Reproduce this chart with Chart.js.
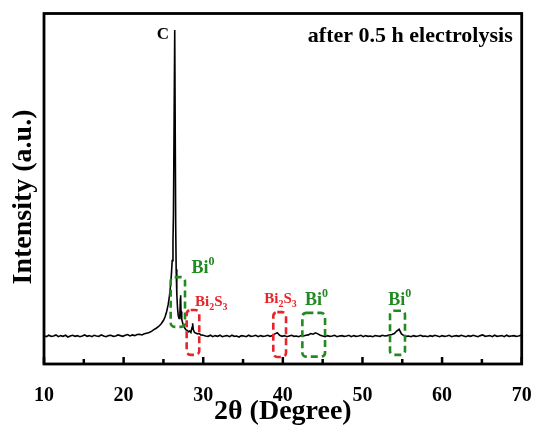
<!DOCTYPE html>
<html>
<head>
<meta charset="utf-8">
<script src="https://cdn.jsdelivr.net/npm/chart.js@4.4.1/dist/chart.umd.min.js"></script>
<style>
  html, body { margin: 0; padding: 0; background: #fff; }
  canvas { display: block; }
</style>
</head>
<body>
<canvas id="xrdChart" width="537" height="427"></canvas>
<script>
// XRD pattern after 0.5 h electrolysis (intensity in arbitrary units, 0-100)
const twoTheta = [
  10.0, 10.3, 10.6, 10.9, 11.2, 11.5, 11.8, 12.1, 12.4, 12.7, 13.0, 13.3, 13.6, 13.9, 14.2,
  14.5, 14.8, 15.1, 15.4, 15.7, 16.0, 16.3, 16.6, 16.9, 17.2, 17.5, 17.8, 18.1, 18.4, 18.7,
  19.0, 19.3, 19.6, 19.9, 20.2, 20.5, 20.8, 21.1, 21.4, 21.7, 22.0, 22.3, 22.6,
  22.9, 23.2, 23.5, 23.8, 24.1, 24.4, 24.7, 25.0, 25.2, 25.4, 25.6, 25.75, 25.9, 26.0, 26.1,
  26.2, 26.26, 26.42, 26.54, 26.6, 26.68, 26.77, 26.86, 26.96,
  27.06, 27.12, 27.16, 27.21, 27.3, 27.42, 27.55, 27.7, 27.85, 28.0, 28.15, 28.3, 28.45,
  28.6, 28.67, 28.75, 28.9, 29.1, 29.3, 29.5, 29.7,
  30.0, 30.3, 30.6, 30.9, 31.2, 31.5, 31.8, 32.1, 32.4, 32.7,
  33.0, 33.3, 33.6, 33.9, 34.2, 34.5, 34.8, 35.1, 35.4, 35.7,
  36.0, 36.3, 36.6, 36.9, 37.2, 37.5, 37.8, 38.1, 38.4, 38.7,
  39.0, 39.3, 39.6, 39.9, 40.2, 40.5, 40.8, 41.1, 41.4, 41.7,
  42.0, 42.3, 42.6, 42.9, 43.2, 43.5, 43.8, 44.1, 44.4, 44.7,
  45.0, 45.3, 45.6, 45.9, 46.2, 46.5, 46.8, 47.1, 47.4, 47.7,
  48.0, 48.3, 48.6, 48.9, 49.2, 49.5, 49.8, 50.1, 50.4, 50.7,
  51.0, 51.3, 51.6, 51.9, 52.2, 52.5, 52.8, 53.1, 53.4, 53.7,
  54.0, 54.3, 54.6, 54.9, 55.2, 55.5, 55.8, 56.1, 56.4, 56.7,
  57.0, 57.3, 57.6, 57.9, 58.2, 58.5, 58.8, 59.1, 59.4, 59.7,
  60.0, 60.3, 60.6, 60.9, 61.2, 61.5, 61.8, 62.1, 62.4, 62.7,
  63.0, 63.3, 63.6, 63.9, 64.2, 64.5, 64.8, 65.1, 65.4, 65.7,
  66.0, 66.3, 66.6, 66.9, 67.2, 67.5, 67.8, 68.1, 68.4, 68.7,
  69.0, 69.3, 69.6, 69.9, 70.0
];
const intensity = [
  8.1, 7.8, 8.2, 7.9, 8.0, 8.3, 7.8, 8.1, 7.9, 8.2, 7.7, 8.0, 8.2, 7.9, 8.1,
  7.8, 8.0, 8.3, 7.9, 8.1, 7.8, 8.2, 8.0, 7.9, 8.3, 8.0, 7.8, 8.1, 8.2, 7.9,
  8.0, 8.3, 8.1, 7.9, 8.2, 8.4, 8.0, 8.3, 8.1, 8.4, 8.5, 8.3, 8.6,
  8.8, 9.0, 9.3, 9.8, 10.2, 10.7, 11.4, 12.4, 13.4, 14.9, 17.0, 19.3, 22.5, 25.5, 29.5,
  35.0, 43.0, 95.3, 40.0, 27.0, 20.0, 16.0, 13.8, 13.0,
  13.6, 18.5, 19.6, 15.0, 12.8, 11.7, 10.8, 10.2, 9.7, 9.6, 9.2, 9.4, 9.0,
  10.5, 11.6, 9.8, 9.0, 8.8, 8.6, 8.7, 8.3,
  8.2, 8.0, 7.9, 8.2, 7.8, 8.1, 7.9, 8.2, 7.8, 8.0,
  8.1, 7.8, 8.2, 7.9, 8.0, 7.7, 8.1, 8.0, 7.8, 8.2,
  7.9, 8.0, 8.2, 7.8, 8.1, 7.9, 8.0, 8.2, 7.9, 8.1,
  8.6, 8.9, 8.2, 7.9, 8.1, 7.8, 8.0, 8.2, 7.9, 8.0,
  7.8, 8.1, 8.0, 8.2, 8.3, 8.7, 8.5, 8.9, 8.6, 8.2,
  8.0, 7.8, 8.1, 7.9, 8.0, 8.2, 7.8, 8.0, 8.1, 7.9,
  8.0, 8.2, 7.8, 8.1, 7.9, 8.0, 8.2, 7.8, 8.1, 7.9,
  8.0, 7.8, 8.1, 8.0, 7.9, 8.2, 8.0, 8.1, 8.3, 8.4,
  8.7, 9.4, 9.9, 8.6, 8.1, 7.9, 8.0, 7.8, 8.1, 7.9,
  8.0, 8.2, 7.9, 8.0, 7.8, 8.1, 7.9, 8.2, 8.0, 7.8,
  8.1, 7.9, 8.0, 8.2, 7.8, 8.0, 8.1, 7.9, 8.2, 8.0,
  7.8, 8.1, 7.9, 8.2, 8.0, 7.8, 8.1, 8.3, 7.9, 8.0,
  8.1, 7.8, 8.2, 7.9, 8.0, 8.1, 7.8, 8.2, 7.9, 8.0,
  8.1, 7.9, 8.0, 8.2, 8.0
];
const xTicks = [10, 20, 30, 40, 50, 60, 70];
const xMinorTicks = [15, 25, 35, 45, 55, 65];

// phase marker boxes: [from 2θ, to 2θ, bottom, top]
const bi0Boxes = [[25.91, 27.71, 10.6, 24.8], [42.45, 45.3, 2.1, 14.6], [53.46, 55.34, 2.6, 15.2]];
const bi2s3Boxes = [[27.92, 29.5, 2.6, 15.4], [38.8, 40.4, 2.0, 14.8]];
// phase labels: [left 2θ, baseline intensity]
const bi0Labels = [[28.53, 26.0], [42.78, 16.8], [53.24, 16.8]];
const bi2s3Labels = [[28.97, 16.5], [37.67, 17.5]];
const carbonLabel = [24.93, 92.6];

const GREEN = '#218a21';
const RED = '#e8242a';
const SERIF = "'Liberation Serif', 'Times New Roman', serif";

Chart.defaults.font.family = SERIF;
Chart.defaults.color = '#000';

function drawChem(ctx, parts, x, y, size) {
  // parts: [text, 'n'|'sub'|'sup']
  let cx = x;
  parts.forEach(([t, kind]) => {
    const s = kind === 'n' ? size : Math.round(size * 0.68);
    const dy = kind === 'sub' ? size * 0.28 : kind === 'sup' ? -size * 0.45 : 0;
    ctx.font = 'bold ' + s + 'px ' + SERIF;
    ctx.fillText(t, cx, y + dy);
    cx += ctx.measureText(t).width;
  });
}

const decor = {
  id: 'decor',
  afterDraw(chart) {
    const { ctx, chartArea: a, scales: { x, y } } = chart;
    ctx.save();

    // dashed rounded boxes
    ctx.lineWidth = 2.6;
    ctx.setLineDash([7, 4]);
    const box = (b, color) => {
      const x0 = x.getPixelForValue(b[0]), x1 = x.getPixelForValue(b[1]);
      const y0 = y.getPixelForValue(b[2]), y1 = y.getPixelForValue(b[3]);
      ctx.strokeStyle = color;
      ctx.beginPath();
      ctx.roundRect(x0, y1, x1 - x0, y0 - y1, 4);
      ctx.stroke();
    };
    bi0Boxes.forEach(b => box(b, GREEN));
    bi2s3Boxes.forEach(b => box(b, RED));
    ctx.setLineDash([]);

    // labels
    ctx.textAlign = 'left';
    ctx.textBaseline = 'alphabetic';
    ctx.fillStyle = GREEN;
    bi0Labels.forEach(p => drawChem(ctx, [['Bi', 'n'], ['0', 'sup']],
      x.getPixelForValue(p[0]), y.getPixelForValue(p[1]), 18));
    ctx.fillStyle = RED;
    bi2s3Labels.forEach(p => drawChem(ctx, [['Bi', 'n'], ['2', 'sub'], ['S', 'n'], ['3', 'sub']],
      x.getPixelForValue(p[0]), y.getPixelForValue(p[1]), 15));

    ctx.fillStyle = '#000';
    ctx.font = 'bold 17px ' + SERIF;
    ctx.textAlign = 'center';
    ctx.fillText('C', x.getPixelForValue(carbonLabel[0]), y.getPixelForValue(carbonLabel[1]));

    ctx.font = 'bold 22px ' + SERIF;
    ctx.textAlign = 'right';
    ctx.fillText('after 0.5 h electrolysis', a.right - 9, a.top + 28.5);

    // y axis title
    ctx.save();
    ctx.translate(24, 197);
    ctx.rotate(-Math.PI / 2);
    ctx.textAlign = 'center';
    ctx.textBaseline = 'middle';
    ctx.font = 'bold 28px ' + SERIF;
    ctx.fillText('Intensity (a.u.)', 0, 0);
    ctx.restore();

    // inward ticks on bottom axis
    ctx.strokeStyle = '#000';
    ctx.lineWidth = 2.5;
    ctx.beginPath();
    xTicks.forEach(v => {
      const px = x.getPixelForValue(v);
      ctx.moveTo(px, a.bottom); ctx.lineTo(px, a.bottom - 7);
    });
    xMinorTicks.forEach(v => {
      const px = x.getPixelForValue(v);
      ctx.moveTo(px, a.bottom); ctx.lineTo(px, a.bottom - 5);
    });
    ctx.stroke();

    // frame
    ctx.lineWidth = 2.8;
    ctx.strokeRect(a.left, a.top, a.right - a.left, a.bottom - a.top);
    ctx.restore();
  }
};

new Chart(document.getElementById('xrdChart'), {
  type: 'line',
  data: {
    datasets: [{
      data: twoTheta.map((t, i) => ({ x: t, y: intensity[i] })),
      borderColor: '#000',
      borderWidth: 1.6,
      pointRadius: 0,
      tension: 0
    }]
  },
  options: {
    responsive: false,
    animation: false,
    devicePixelRatio: 1,
    layout: { padding: { top: 13.5, right: 15.3, left: 0, bottom: 0 } },
    plugins: { legend: { display: false }, tooltip: { enabled: false } },
    scales: {
      x: {
        type: 'linear',
        min: 10,
        max: 70,
        grid: { display: false, drawTicks: true, tickLength: 20 },
        border: { display: false },
        afterBuildTicks: s => { s.ticks = xTicks.map(v => ({ value: v })); },
        ticks: {
          autoSkip: false,
          maxRotation: 0,
          padding: 0,
          font: { size: 20, weight: 'bold' },
          color: '#000'
        },
        title: {
          display: true,
          text: '2θ (Degree)',
          font: { size: 28, weight: 'bold' },
          color: '#000',
          padding: { top: 0, bottom: -2 }
        },
        afterFit: s => { s.height = 63; }
      },
      y: {
        min: 0,
        max: 100,
        grid: { display: false, drawTicks: false },
        border: { display: false },
        ticks: { display: false },
        afterFit: s => { s.width = 44; }
      }
    }
  },
  plugins: [decor]
});
</script>
</body>
</html>
